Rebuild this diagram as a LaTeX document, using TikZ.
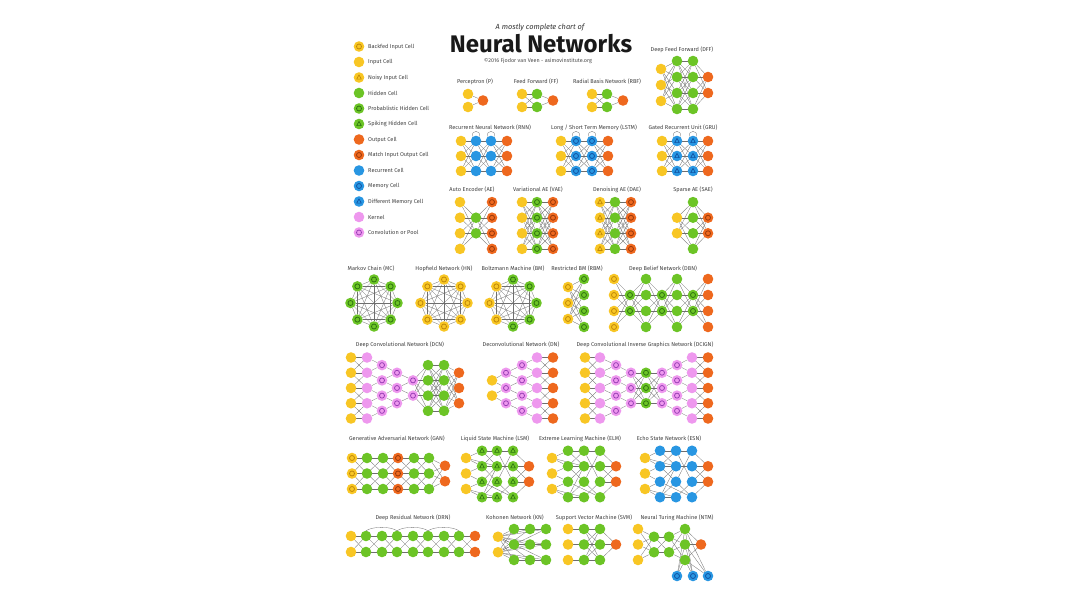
\documentclass[tikz,border=0pt]{standalone}
\usepackage{fontspec}
\setmainfont{Fira Sans}
\pgfdeclarelayer{bg}
\pgfsetlayers{bg,main}
\definecolor{cyel}{RGB}{248,198,36}
\definecolor{cyelr}{RGB}{190,135,8}
\definecolor{cgrn}{RGB}{108,196,38}
\definecolor{cgrnr}{RGB}{45,115,15}
\definecolor{corg}{RGB}{238,104,30}
\definecolor{corgr}{RGB}{150,55,10}
\definecolor{cblu}{RGB}{40,150,226}
\definecolor{cblur}{RGB}{16,80,160}
\definecolor{cpnk}{RGB}{238,152,238}
\definecolor{cpnkr}{RGB}{150,60,180}
\definecolor{cedge}{RGB}{110,110,110}
\tikzset{
 cell/.style={circle, minimum size=10.6pt, inner sep=0pt, outer sep=0pt},
 ring/.style={path picture={\draw[#1, line width=0.75pt] (path picture bounding box.center) circle[radius=2.5pt];}},
 tri/.style={path picture={\draw[#1, line width=0.65pt, line join=round] (path picture bounding box.center) ++(0pt,2.6pt) -- ++(-2.3pt,-4.2pt) -- ++(4.6pt,0pt) -- cycle;}},
 inpc/.style={cell, fill=cyel},
 binc/.style={cell, fill=cyel, ring=cyelr},
 ninc/.style={cell, fill=cyel, tri=cyelr},
 hidc/.style={cell, fill=cgrn},
 phidc/.style={cell, fill=cgrn, ring=cgrnr},
 shidc/.style={cell, fill=cgrn, tri=cgrnr},
 outc/.style={cell, fill=corg},
 mioc/.style={cell, fill=corg, ring=corgr},
 recc/.style={cell, fill=cblu},
 memc/.style={cell, fill=cblu, ring=cblur},
 dmemc/.style={cell, fill=cblu, tri=cblur},
 kerc/.style={cell, fill=cpnk},
 convc/.style={cell, fill=cpnk, ring=cpnkr},
 edge/.style={draw=cedge, line width=0.3pt},
 lbl/.style={font=\fontsize{5.6}{6.5}\selectfont, text=black!75, inner sep=0pt},
 leg/.style={font=\fontsize{5.6}{6.5}\selectfont, text=black!75, anchor=west, inner sep=0pt},
}
% layer of cells: name, x, y centre, count, spacing, style
\newcommand{\lay}[6]{\foreach \k in {1,...,#4}{\node[#6] (#1-\k) at ({#2},{#3+(\k-(#4+1)/2)*#5}) {};}}
% full connections
\newcommand{\fullc}[4]{\foreach \i in {1,...,#2}{\foreach \j in {1,...,#4}{\draw[edge] (#1-\i) -- (#3-\j);}}}
% local connections
\newcommand{\locc}[4]{\foreach \i in {1,...,#2}{\foreach \j in {1,...,#4}{\pgfmathsetmacro{\dd}{abs((\i-(#2+1)/2)-(\j-(#4+1)/2))}\ifdim\dd pt<1.1pt\relax\draw[edge] (#1-\i) -- (#3-\j);\fi}}}
% straight connections
\newcommand{\strc}[3]{\foreach \i in {1,...,#2}{\draw[edge] (#1-\i) -- (#3-\i);}}
% octagon of cells
\newcommand{\octo}[4]{\foreach \s [count=\c] in {#4}{\node[\s] (#1-\c) at ({#2+23.5*sin(45*(\c-1))},{#3-23.5*cos(45*(\c-1))}) {};}}
\newcommand{\kgraph}[1]{\foreach \i in {1,...,7}{\pgfmathtruncatemacro{\ii}{\i+1}\foreach \j in {\ii,...,8}{\draw[edge] (#1-\i) -- (#1-\j);}}}
% sparse random connections
\newcommand{\rndnet}[1]{\foreach \a/\b in {1-1/2-1, 1-1/2-2, 1-2/2-2, 1-2/2-3, 1-3/2-3, 1-3/2-4, 1-1/3-2, 1-3/3-4,
   2-1/3-2, 2-1/3-1, 2-2/3-1, 2-2/3-3, 2-3/3-2, 2-3/4-4, 2-4/3-3, 2-4/3-4, 2-2/4-2,
   3-1/4-1, 3-1/4-3, 3-2/4-2, 3-3/4-1, 3-3/4-4, 3-4/4-3, 3-2/2-4,
   4-1/5-1, 4-2/5-1, 4-3/5-2, 4-4/5-2, 4-2/5-2, 4-3/5-1}{\draw[edge] (#1\a) -- (#1\b);}}
\newcommand{\recloop}[1]{\draw[edge] (#1.125) .. controls +(-3,-7) and +(3,-7) .. (#1.55);}
\begin{document}
\begin{tikzpicture}[x=1pt,y=-1pt]
\useasboundingbox (0,0) rectangle (1080,608);
% ---------- title
\node[font=\fontsize{7.4}{8}\selectfont\itshape, text=black!80, inner sep=0pt] (t1) at (540,28) {A mostly complete chart of};
\node[font=\fontsize{24}{26}\selectfont\bfseries, text=black!90, inner sep=0pt] (t2) at (541,44) {Neural Networks};
\node[font=\fontsize{5.4}{6}\selectfont, text=black!70, inner sep=0pt] (t3) at (538,61) {©2016 Fjodor van Veen - asimovinstitute.org};
% ---------- legend
\foreach \s/\t [count=\c] in {binc/Backfed Input Cell, inpc/Input Cell, ninc/Noisy Input Cell, hidc/Hidden Cell, phidc/Probablistic Hidden Cell, shidc/Spiking Hidden Cell, outc/Output Cell, mioc/Match Input Output Cell, recc/Recurrent Cell, memc/Memory Cell, dmemc/Different Memory Cell, kerc/Kernel, convc/Convolution or Pool}{
  \node[\s] (lg\c) at (359,{31+15.5*\c}) {};
  \node[leg] (lt\c) at (368,{31+15.5*\c}) {\t};
}
% ---------- row 1
\node[lbl] (lp) at (475,82) {Perceptron (P)};
\lay{p1}{468}{100.5}{2}{13}{inpc}
\lay{p2}{483}{100.5}{1}{13}{outc}
\node[lbl] (lff) at (536,82) {Feed Forward (FF)};
\lay{ff1}{522}{100.5}{2}{13}{inpc}
\lay{ff2}{537}{100.5}{2}{13}{hidc}
\lay{ff3}{553}{100.5}{1}{13}{outc}
\node[lbl] (lrbf) at (607,82) {Radial Basis Network (RBF)};
\lay{rbf1}{592}{100.5}{2}{13}{inpc}
\lay{rbf2}{607}{100.5}{2}{13}{hidc}
\lay{rbf3}{623}{100.5}{1}{13}{outc}
\node[lbl] (ldff) at (682,50) {Deep Feed Forward (DFF)};
\lay{dff1}{661}{85}{3}{16}{inpc}
\lay{dff2}{677}{85}{4}{16}{hidc}
\lay{dff3}{693}{85}{4}{16}{hidc}
\lay{dff4}{708}{85}{2}{16}{outc}
% ---------- row 2
\node[lbl] (lrnn) at (490,128) {Recurrent Neural Network (RNN)};
\lay{rnn1}{461}{156}{3}{15}{inpc}
\lay{rnn2}{476}{156}{3}{15}{recc}
\lay{rnn3}{491}{156}{3}{15}{recc}
\lay{rnn4}{507}{156}{3}{15}{outc}
\node[lbl] (llstm) at (594,128) {Long / Short Term Memory (LSTM)};
\lay{lstm1}{561}{156}{3}{15}{inpc}
\lay{lstm2}{576}{156}{3}{15}{memc}
\lay{lstm3}{592}{156}{3}{15}{memc}
\lay{lstm4}{608}{156}{3}{15}{outc}
\node[lbl] (lgru) at (683,128) {Gated Recurrent Unit (GRU)};
\lay{gru1}{662}{156}{3}{15}{inpc}
\lay{gru2}{677}{156}{3}{15}{dmemc}
\lay{gru3}{693}{156}{3}{15}{dmemc}
\lay{gru4}{708}{156}{3}{15}{outc}
% ---------- row 3
\node[lbl] (lae) at (472,190) {Auto Encoder (AE)};
\lay{ae1}{460}{225.5}{4}{15.6}{inpc}
\lay{ae2}{476}{225.5}{2}{15.6}{hidc}
\lay{ae3}{492}{225.5}{4}{15.6}{mioc}
\node[lbl] (lvae) at (538,190) {Variational AE (VAE)};
\lay{vae1}{522}{225.5}{4}{15.6}{inpc}
\lay{vae2}{537}{225.5}{4}{15.6}{phidc}
\lay{vae3}{553}{225.5}{4}{15.6}{mioc}
\node[lbl] (ldae) at (617,190) {Denoising AE (DAE)};
\lay{dae1}{600}{225.5}{4}{15.6}{ninc}
\lay{dae2}{615}{225.5}{4}{15.6}{hidc}
\lay{dae3}{631}{225.5}{4}{15.6}{mioc}
\node[lbl] (lsae) at (693,190) {Sparse AE (SAE)};
\lay{sae1}{677}{225.5}{2}{15.6}{inpc}
\lay{sae2}{693}{225.5}{4}{15.6}{hidc}
\lay{sae3}{708}{225.5}{2}{15.6}{mioc}
% ---------- row 4
\node[lbl] (lmc) at (371,269) {Markov Chain (MC)};
\octo{mc}{374}{303}{phidc,phidc,phidc,phidc,phidc,phidc,phidc,phidc}
\node[lbl] (lhn) at (444,269) {Hopfield Network (HN)};
\octo{hn}{444}{303}{binc,binc,binc,binc,binc,binc,binc,binc}
\node[lbl] (lbm) at (513,269) {Boltzmann Machine (BM)};
\octo{bm}{513}{303}{phidc,phidc,phidc,phidc,phidc,binc,binc,binc}
\node[lbl] (lrbm) at (577,269) {Restricted BM (RBM)};
\lay{rbm1}{568}{303}{3}{16}{binc}
\lay{rbm2}{584}{303}{4}{16}{phidc}
\node[lbl] (ldbn) at (663,269) {Deep Belief Network (DBN)};
\lay{dbn1}{614}{303}{4}{16}{binc}
\lay{dbn2}{630}{303}{2}{16}{phidc}
\lay{dbn3}{646}{303}{4}{16}{hidc}
\lay{dbn4}{662}{303}{2}{16}{phidc}
\lay{dbn5}{677}{303}{4}{16}{hidc}
\lay{dbn6}{693}{303}{2}{16}{phidc}
\lay{dbn7}{708}{303}{4}{16}{outc}
% ---------- row 5
\node[lbl] (ldcn) at (400,345) {Deep Convolutional Network (DCN)};
\lay{dcn1}{351}{388}{5}{15.25}{inpc}
\lay{dcn2}{367}{388}{5}{15.25}{kerc}
\lay{dcn3}{382}{388}{4}{15.25}{convc}
\lay{dcn4}{397}{388}{3}{15.25}{convc}
\lay{dcn5}{413}{388}{2}{15.25}{convc}
\lay{dcn6}{428}{388}{4}{15.25}{hidc}
\lay{dcn7}{444}{388}{4}{15.25}{hidc}
\lay{dcn8}{459}{388}{3}{15.25}{outc}
\node[lbl] (ldn) at (521,345) {Deconvolutional Network (DN)};
\lay{dn1}{492}{388}{2}{15.25}{inpc}
\lay{dn2}{506}{388}{3}{15.25}{convc}
\lay{dn3}{522}{388}{4}{15.25}{convc}
\lay{dn4}{537}{388}{5}{15.25}{kerc}
\lay{dn5}{553}{388}{5}{15.25}{outc}
\node[lbl] (ldci) at (645,345) {Deep Convolutional Inverse Graphics Network (DCIGN)};
\lay{dci1}{585}{388}{5}{15.25}{inpc}
\lay{dci2}{600}{388}{5}{15.25}{kerc}
\lay{dci3}{616}{388}{4}{15.25}{convc}
\lay{dci4}{631}{388}{3}{15.25}{convc}
\lay{dci5}{646}{388}{3}{15.25}{phidc}
\lay{dci6}{662}{388}{3}{15.25}{convc}
\lay{dci7}{677}{388}{4}{15.25}{convc}
\lay{dci8}{692}{388}{5}{15.25}{kerc}
\lay{dci9}{708}{388}{5}{15.25}{outc}
% ---------- row 6
\node[lbl] (lgan) at (397,439) {Generative Adversarial Network (GAN)};
\lay{gan1}{352}{473.5}{3}{15.5}{binc}
\lay{gan2}{367}{473.5}{3}{15.5}{hidc}
\lay{gan3}{383}{473.5}{3}{15.5}{hidc}
\lay{gan4}{398}{473.5}{3}{15.5}{mioc}
\lay{gan5}{414}{473.5}{3}{15.5}{hidc}
\lay{gan6}{429}{473.5}{3}{15.5}{hidc}
\lay{gan7}{445}{473.5}{2}{15.5}{outc}
\node[lbl] (llsm) at (495,439) {Liquid State Machine (LSM)};
\lay{lsm1}{466}{473.5}{3}{15.5}{inpc}
\lay{lsm2}{482}{474}{4}{15.5}{shidc}
\lay{lsm3}{497}{474}{4}{15.5}{shidc}
\lay{lsm4}{513}{474}{4}{15.5}{shidc}
\lay{lsm5}{529}{474}{2}{15.5}{outc}
\node[lbl] (lelm) at (580,439) {Extreme Learning Machine (ELM)};
\lay{elm1}{552}{473.5}{3}{15.5}{inpc}
\lay{elm2}{568}{474}{4}{15.5}{hidc}
\lay{elm3}{584}{474}{4}{15.5}{hidc}
\lay{elm4}{600}{474}{4}{15.5}{hidc}
\lay{elm5}{616}{474}{2}{15.5}{outc}
\node[lbl] (lesn) at (669,439) {Echo State Network (ESN)};
\lay{esn1}{645}{473.5}{3}{15.5}{inpc}
\lay{esn2}{660}{474}{4}{15.5}{recc}
\lay{esn3}{676}{474}{4}{15.5}{recc}
\lay{esn4}{692}{474}{4}{15.5}{recc}
\lay{esn5}{708}{474}{2}{15.5}{outc}
% ---------- row 7
\node[lbl] (ldrn) at (413,518) {Deep Residual Network (DRN)};
\lay{drn1}{351}{544}{2}{16}{inpc}
\foreach \n/\xx in {2/366,3/382,4/397,5/413,6/428,7/444,8/459}{\lay{drn\n}{\xx}{544}{2}{16}{hidc}}
\lay{drn9}{475}{544}{2}{16}{outc}
\node[lbl] (lkn) at (515,518) {Kohonen Network (KN)};
\lay{kn1}{498}{544.5}{2}{15.5}{inpc}
\lay{kn2}{514}{544.5}{3}{15.5}{hidc}
\lay{kn3}{530}{544.5}{3}{15.5}{hidc}
\lay{kn4}{546}{544.5}{3}{15.5}{hidc}
\node[lbl] (lsvm) at (594,518) {Support Vector Machine (SVM)};
\lay{svm1}{568}{544.5}{3}{15.5}{inpc}
\lay{svm2}{584}{544.5}{3}{15.5}{hidc}
\lay{svm3}{600}{544.5}{3}{15.5}{hidc}
\lay{svm4}{616}{544.5}{1}{15.5}{outc}
\node[lbl] (lntm) at (677,518) {Neural Turing Machine (NTM)};
\lay{ntm1}{638}{544.5}{3}{15.5}{inpc}
\lay{ntm2}{654}{544.5}{2}{15.5}{hidc}
\lay{ntm3}{669}{544.5}{2}{15.5}{hidc}
\lay{ntm4}{685}{544.5}{3}{15.5}{hidc}
\lay{ntm5}{701}{544.5}{1}{15.5}{outc}
\node[memc] (ntmm-1) at (677,576) {};
\node[memc] (ntmm-2) at (693,576) {};
\node[memc] (ntmm-3) at (708,576) {};
% ================= connectors (background layer)
\begin{pgfonlayer}{bg}
\fill[white] (0,0) rectangle (1080,608);
\fullc{p1}{2}{p2}{1}
\fullc{ff1}{2}{ff2}{2}\fullc{ff2}{2}{ff3}{1}
\fullc{rbf1}{2}{rbf2}{2}\fullc{rbf2}{2}{rbf3}{1}
\fullc{dff1}{3}{dff2}{4}\fullc{dff2}{4}{dff3}{4}\fullc{dff3}{4}{dff4}{2}
\fullc{rnn1}{3}{rnn2}{3}\fullc{rnn2}{3}{rnn3}{3}\fullc{rnn3}{3}{rnn4}{3}
\fullc{lstm1}{3}{lstm2}{3}\fullc{lstm2}{3}{lstm3}{3}\fullc{lstm3}{3}{lstm4}{3}
\fullc{gru1}{3}{gru2}{3}\fullc{gru2}{3}{gru3}{3}\fullc{gru3}{3}{gru4}{3}
\recloop{rnn2-1}\recloop{rnn3-1}\recloop{lstm2-1}\recloop{lstm3-1}\recloop{gru2-1}\recloop{gru3-1}
\fullc{ae1}{4}{ae2}{2}\fullc{ae2}{2}{ae3}{4}
\fullc{vae1}{4}{vae2}{4}\fullc{vae2}{4}{vae3}{4}
\fullc{dae1}{4}{dae2}{4}\fullc{dae2}{4}{dae3}{4}
\fullc{sae1}{2}{sae2}{4}\fullc{sae2}{4}{sae3}{2}
\kgraph{mc}\kgraph{hn}\kgraph{bm}
\fullc{rbm1}{3}{rbm2}{4}
\fullc{dbn1}{4}{dbn2}{2}\fullc{dbn2}{2}{dbn3}{4}\fullc{dbn3}{4}{dbn4}{2}\fullc{dbn4}{2}{dbn5}{4}\fullc{dbn5}{4}{dbn6}{2}\fullc{dbn6}{2}{dbn7}{4}
\locc{dcn1}{5}{dcn2}{5}\locc{dcn2}{5}{dcn3}{4}\locc{dcn3}{4}{dcn4}{3}\locc{dcn4}{3}{dcn5}{2}
\fullc{dcn5}{2}{dcn6}{4}\fullc{dcn6}{4}{dcn7}{4}\fullc{dcn7}{4}{dcn8}{3}
\locc{dn1}{2}{dn2}{3}\locc{dn2}{3}{dn3}{4}\locc{dn3}{4}{dn4}{5}\locc{dn4}{5}{dn5}{5}
\locc{dci1}{5}{dci2}{5}\locc{dci2}{5}{dci3}{4}\locc{dci3}{4}{dci4}{3}
\fullc{dci4}{3}{dci5}{3}\fullc{dci5}{3}{dci6}{3}
\locc{dci6}{3}{dci7}{4}\locc{dci7}{4}{dci8}{5}\locc{dci8}{5}{dci9}{5}
\locc{gan1}{3}{gan2}{3}\locc{gan2}{3}{gan3}{3}\locc{gan3}{3}{gan4}{3}\locc{gan4}{3}{gan5}{3}\locc{gan5}{3}{gan6}{3}\fullc{gan6}{3}{gan7}{2}
\rndnet{lsm}\rndnet{elm}\rndnet{esn}
\fullc{drn1}{2}{drn2}{2}
\foreach \a/\b in {2/3,3/4,4/5,5/6,6/7,7/8,8/9}{\fullc{drn\a}{2}{drn\b}{2}}
\foreach \a/\b in {2/4,4/6,6/8}{\draw[edge] (drn\a-1.north) .. controls +(7,-4.5) and +(-7,-4.5) .. (drn\b-1.north);}
\fullc{kn1}{2}{kn2}{3}\fullc{kn1}{2}{kn3}{3}\fullc{kn1}{2}{kn4}{3}
\strc{kn2}{3}{kn3}\strc{kn3}{3}{kn4}
\strc{svm1}{3}{svm2}\fullc{svm2}{3}{svm3}{3}\fullc{svm3}{3}{svm4}{1}
\fullc{ntm1}{3}{ntm2}{2}\fullc{ntm2}{2}{ntm3}{2}\fullc{ntm3}{2}{ntm4}{3}\fullc{ntm4}{3}{ntm5}{1}
\fullc{ntm4}{3}{ntmm}{3}
\end{pgfonlayer}
\end{tikzpicture}
\end{document}
